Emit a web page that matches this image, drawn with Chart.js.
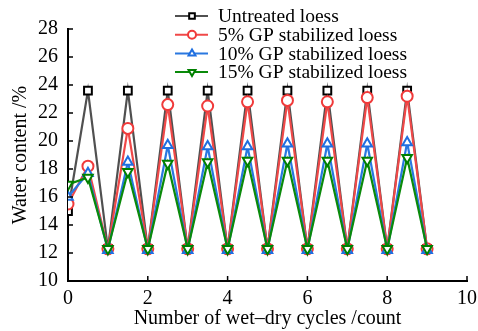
<!DOCTYPE html>
<html>
<head>
<meta charset="utf-8">
<script src="https://cdn.jsdelivr.net/npm/chart.js@4"></script>
<style>
  html, body { margin: 0; padding: 0; background: #fff; }
  #wrap { width: 478px; height: 331px; }
</style>
</head>
<body>
<div id="wrap"><canvas id="c"></canvas></div>
<script>
// ---- data ----
const cycles = [0, 0.5, 1, 1.5, 2, 2.5, 3, 3.5, 4, 4.5, 5, 5.5, 6, 6.5, 7, 7.5, 8, 8.5, 9];
const untreated = [15.0, 23.6, 12.3, 23.6, 12.3, 23.6, 12.3, 23.6, 12.3, 23.6, 12.3, 23.6, 12.3, 23.6, 12.3, 23.6, 12.3, 23.6, 12.3];
const gp5  = [15.5, 18.2, 12.3, 20.9, 12.3, 22.6, 12.3, 22.5, 12.3, 22.8, 12.3, 22.9, 12.3, 22.8, 12.3, 23.1, 12.3, 23.2, 12.3];
const gp10 = [16.0, 17.7, 12.2, 18.5, 12.2, 19.7, 12.2, 19.6, 12.2, 19.6, 12.2, 19.8, 12.2, 19.8, 12.2, 19.8, 12.2, 19.9, 12.2];
const gp15 = [16.9, 17.4, 12.3, 17.8, 12.3, 18.4, 12.3, 18.5, 12.3, 18.6, 12.3, 18.6, 12.3, 18.6, 12.3, 18.6, 12.3, 18.8, 12.3];
const seriesNames = ['Untreated loess', '5% GP stabilized loess', '10% GP stabilized loess', '15% GP stabilized loess'];
const xTicks = [0, 2, 4, 6, 8, 10];
const yTicks = [10, 12, 14, 16, 18, 20, 22, 24, 26, 28];

const SERIF = "'Liberation Serif', 'Times New Roman', serif";

function pts(vals) {
  return vals.map((v, i) => ({ x: cycles[i], y: v }));
}

function ds(label, vals, line, mark, style, rot, order) {
  return {
    label,
    data: pts(vals),
    order,
    borderColor: line,
    borderWidth: 2.2,
    pointStyle: style,
    pointRotation: rot || 0,
    pointRadius: 5.5,
    pointBorderColor: mark,
    pointBackgroundColor: '#fff',
    pointBorderWidth: 2,
    tension: 0,
  };
}

// inward ticks, drawn from the scales
const inwardTicks = {
  id: 'inwardTicks',
  afterDraw(chart) {
    const { ctx, scales } = chart;
    const x = scales.x, y = scales.y;
    ctx.save();
    ctx.strokeStyle = '#000';
    ctx.lineWidth = 1.5;
    ctx.beginPath();
    xTicks.forEach((t) => {
      const px = x.getPixelForValue(t);
      ctx.moveTo(px, y.bottom);
      ctx.lineTo(px, y.bottom - 5);
    });
    yTicks.forEach((t) => {
      const py = y.getPixelForValue(t);
      ctx.moveTo(x.left, py);
      ctx.lineTo(x.left + 5, py);
    });
    ctx.stroke();
    ctx.restore();
  },
};

// legend in the top right, over the plot
const sideLegend = {
  id: 'sideLegend',
  afterDraw(chart) {
    const { ctx } = chart;
    const x0 = 175, y0 = 16, step = 18.7;
    ctx.save();
    ctx.font = '19.5px ' + SERIF;
    ctx.textBaseline = 'middle';
    chart.data.datasets.forEach((d, i) => {
      const yy = y0 + i * step;
      ctx.fillStyle = '#fff';
      ctx.fillRect(x0 - 2, yy - 9, 240, 18);
      ctx.strokeStyle = d.borderColor;
      ctx.lineWidth = 2;
      ctx.beginPath();
      ctx.moveTo(x0, yy);
      ctx.lineTo(x0 + 33, yy);
      ctx.stroke();
      ctx.lineWidth = 2;
      ctx.strokeStyle = d.pointBorderColor;
      ctx.fillStyle = '#fff';
      Chart.helpers.drawPoint(ctx, {
        pointStyle: d.pointStyle,
        rotation: d.pointRotation,
        radius: 4,
        borderWidth: 2,
      }, x0 + 17, yy);
      ctx.fillStyle = '#000';
      ctx.fillText(d.label, x0 + 43, yy + 1);
    });
    ctx.restore();
  },
};

new Chart(document.getElementById('c'), {
  type: 'line',
  data: {
    datasets: [
      ds(seriesNames[0], untreated, '#505050', '#000', 'rect', 0, 3),
      ds(seriesNames[1], gp5, '#f04848', '#f03a3a', 'circle', 0, 2),
      ds(seriesNames[2], gp10, '#2a78e0', '#1f6fe0', 'triangle', 0, 1),
      ds(seriesNames[3], gp15, '#0a8a0a', '#008000', 'triangle', 180, 0),
    ],
  },
  options: {
    responsive: true,
    maintainAspectRatio: false,
    animation: false,
    layout: { padding: { top: 29, right: 11, left: 0, bottom: 0 } },
    plugins: { legend: { display: false }, tooltip: { enabled: false } },
    scales: {
      x: {
        type: 'linear',
        min: 0, max: 10,
        afterBuildTicks: (s) => { s.ticks = xTicks.map((v) => ({ value: v })); },
        afterFit: (s) => { s.height = 50; s.paddingRight = 0; s.paddingLeft = 0; },
        grid: { display: false, drawTicks: false },
        border: { display: true, color: '#000', width: 2 },
        ticks: { color: '#000', padding: 6, font: { family: SERIF, size: 20 } },
        title: {
          display: true,
          text: 'Number of wet\u2013dry cycles /count',
          color: '#000',
          font: { family: SERIF, size: 20 },
          padding: { top: 0, bottom: 0 },
        },
      },
      y: {
        min: 10, max: 28,
        afterBuildTicks: (s) => { s.ticks = yTicks.map((v) => ({ value: v })); },
        afterFit: (s) => { s.width = 68; s.paddingTop = 0; s.paddingBottom = 0; },
        grid: { display: false, drawTicks: false },
        border: { display: true, color: '#000', width: 2 },
        ticks: { color: '#000', padding: 10, font: { family: SERIF, size: 20 } },
        title: {
          display: true,
          text: 'Water content /%',
          color: '#000',
          font: { family: SERIF, size: 20 },
          padding: { top: 9, bottom: 0 },
        },
      },
    },
  },
  plugins: [inwardTicks, sideLegend],
});
</script>
</body>
</html>
